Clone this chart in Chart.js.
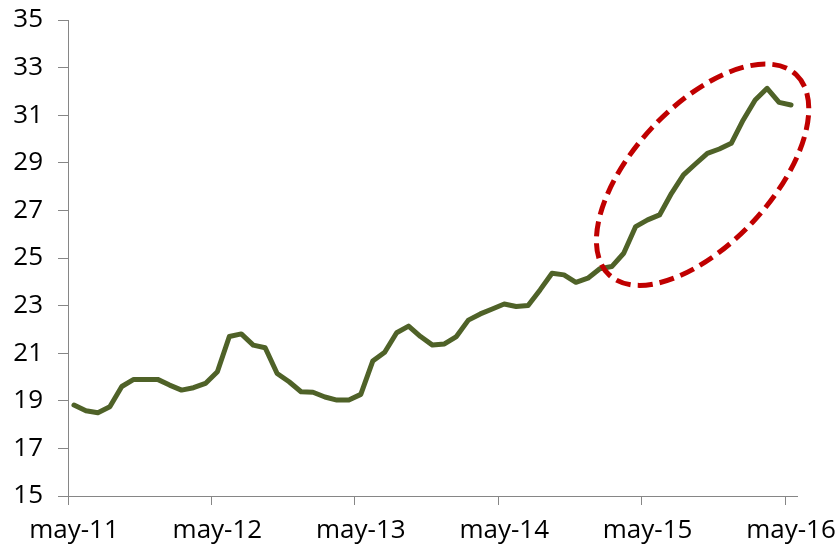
<!DOCTYPE html>
<html>
<head>
<meta charset="utf-8">
<script src="https://cdn.jsdelivr.net/npm/chart.js@4.4.1/dist/chart.umd.min.js"></script>
<style>
  html, body { margin: 0; padding: 0; background: #fff; }
  #wrap { width: 838px; height: 549px; }
</style>
</head>
<body>
<div id="wrap"><canvas id="line-chartcanvas"></canvas></div>
<script>
// months, may-11 .. may-16
var months = [
	"may-11","jun-11","jul-11","ago-11","sep-11","oct-11","nov-11","dic-11","ene-12","feb-12","mar-12","abr-12",
	"may-12","jun-12","jul-12","ago-12","sep-12","oct-12","nov-12","dic-12","ene-13","feb-13","mar-13","abr-13",
	"may-13","jun-13","jul-13","ago-13","sep-13","oct-13","nov-13","dic-13","ene-14","feb-14","mar-14","abr-14",
	"may-14","jun-14","jul-14","ago-14","sep-14","oct-14","nov-14","dic-14","ene-15","feb-15","mar-15","abr-15",
	"may-15","jun-15","jul-15","ago-15","sep-15","oct-15","nov-15","dic-15","ene-16","feb-16","mar-16","abr-16",
	"may-16"
];

var values = [
	18.82, 18.58, 18.50, 18.75, 19.60, 19.90, 19.90, 19.90, 19.66, 19.45, 19.55, 19.73,
	20.22, 21.70, 21.81, 21.34, 21.23, 20.15, 19.80, 19.38, 19.36, 19.16, 19.03, 19.03,
	19.27, 20.67, 21.04, 21.86, 22.14, 21.70, 21.34, 21.39, 21.70, 22.39, 22.65, 22.86,
	23.07, 22.96, 23.00, 23.66, 24.36, 24.29, 23.98, 24.15, 24.55, 24.64, 25.20, 26.32,
	26.60, 26.81, 27.72, 28.49, 28.95, 29.40, 29.58, 29.82, 30.80, 31.64, 32.13, 31.54,
	31.43
];

var yTicks = [15, 17, 19, 21, 23, 25, 27, 29, 31, 33, 35];

// dashed ring drawn round the last stretch (centre in data units, radii in px)
var ring = { at: [52.6, 28.5], rx: 137, ry: 69, angle: -47 };

var axisGrey = "#868686";
var font = { family: "'Open Sans', sans-serif", size: 26 };

var ringPlugin = {
	id: "ring",
	afterDatasetsDraw: function(chart) {
		var c = chart.ctx;
		var cx = chart.scales.x.getPixelForValue(ring.at[0]);
		var cy = chart.scales.y.getPixelForValue(ring.at[1]);
		c.save();
		c.strokeStyle = "#c00000";
		c.lineWidth = 5;
		c.setLineDash([15, 7]);
		c.beginPath();
		c.ellipse(cx, cy, ring.rx, ring.ry, ring.angle * Math.PI / 180, 0, Math.PI * 2);
		c.stroke();
		c.restore();
	}
};

var ctx = document.getElementById("line-chartcanvas");

var chart = new Chart(ctx, {
	type: "line",
	data: {
		labels: months,
		datasets: [{
			data: values,
			borderColor: "#4f6228",
			borderWidth: 5,
			fill: false,
			tension: 0,
			pointRadius: 0,
			borderJoinStyle: "round",
			borderCapStyle: "round"
		}]
	},
	options: {
		responsive: true,
		maintainAspectRatio: false,
		animation: false,
		layout: { padding: { top: 20, right: 41, left: 0, bottom: 0 } },
		plugins: { legend: { display: false }, tooltip: { enabled: false } },
		scales: {
			x: {
				offset: true,
				border: { color: axisGrey, width: 1 },
				grid: {
					offset: true,
					drawOnChartArea: false,
					tickLength: 9,
					color: function(c) { return c.index % 12 === 0 ? axisGrey : "rgba(0,0,0,0)"; }
				},
				ticks: {
					autoSkip: false,
					maxRotation: 0,
					padding: 10,
					color: "#000",
					font: font,
					callback: function(v, i) { return i % 12 === 0 ? months[i] : ""; }
				},
				afterFit: function(s) { s.height = 53; s.paddingLeft = 0; s.paddingRight = 0; }
			},
			y: {
				min: yTicks[0],
				max: yTicks[yTicks.length - 1],
				border: { color: axisGrey, width: 1 },
				grid: { drawOnChartArea: false, tickLength: 10, color: axisGrey },
				afterBuildTicks: function(s) { s.ticks = yTicks.map(function(v) { return { value: v }; }); },
				ticks: { padding: 15, color: "#000", font: font },
				afterFit: function(s) { s.width = 68; s.paddingTop = 0; s.paddingBottom = 0; }
			}
		}
	},
	plugins: [ringPlugin]
});
</script>
</body>
</html>
